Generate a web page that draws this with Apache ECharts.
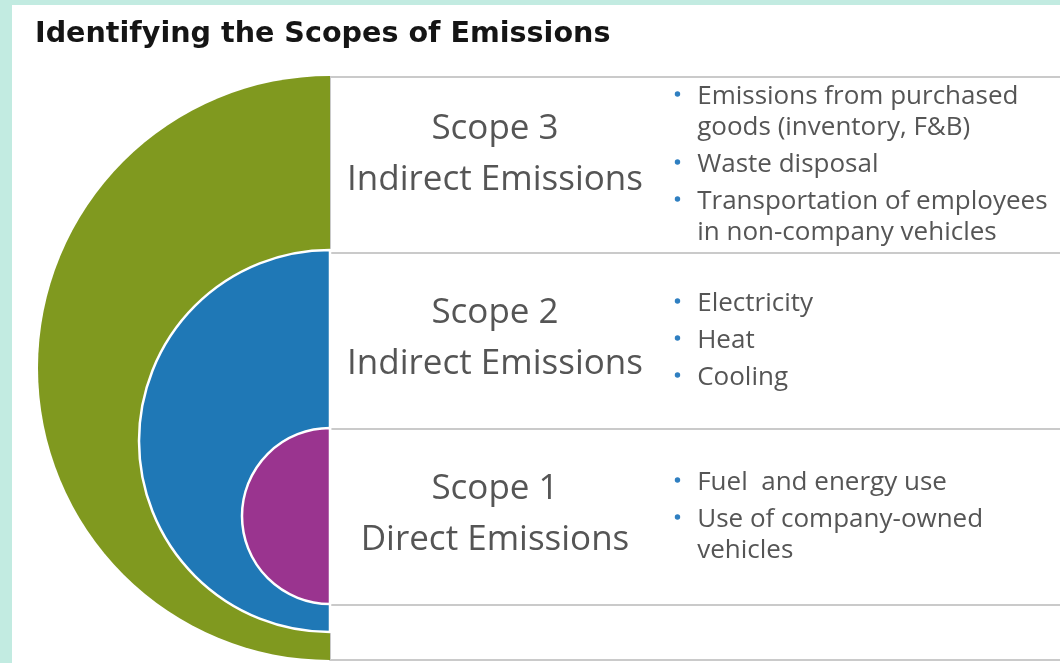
<!DOCTYPE html>
<html><head><meta charset="utf-8">
<script src="https://cdn.jsdelivr.net/npm/echarts@6/dist/echarts.min.js"></script>
<style>
html,body{margin:0;padding:0;background:#c2ebe1;width:1060px;height:663px;overflow:hidden;}
#bg{position:absolute;left:12px;top:5px;width:1048px;height:658px;background:#fff;}
#c{position:absolute;left:0;top:0;width:1060px;height:663px;}
</style></head>
<body>
<div id="bg"></div>
<div id="c"></div>
<script>
// ---- data ----
const chartTitle = 'Identifying the Scopes of Emissions';
const scopeTitles = ['Scope 3', 'Scope 2', 'Scope 1'];
const scopeSubtitles = ['Indirect Emissions', 'Indirect Emissions', 'Direct Emissions'];
const scope3Items = [['Emissions from purchased', 'goods (inventory, F&B)'], ['Waste disposal'], ['Transportation of employees', 'in non-company vehicles']];
const scope2Items = [['Electricity'], ['Heat'], ['Cooling']];
const scope1Items = [['Fuel  and energy use'], ['Use of company-owned', 'vehicles']];
const rowItems = [scope3Items, scope2Items, scope1Items];
const rowIndex = [0, 1, 2];

const FONT = '"Open Sans", "Noto Sans", sans-serif';

function halfDisc(name, color, center, radius, z, border) {
  return {
    type: 'pie', name: name, silent: true, z: z, animation: false,
    center: center, radius: [0, radius],
    startAngle: 90, endAngle: 270, clockwise: false,
    label: { show: false }, labelLine: { show: false },
    emphasis: { disabled: true },
    itemStyle: { color: color, borderColor: '#ffffff', borderWidth: border },
    data: [{ name: name, value: 1 }]
  };
}

const chart = echarts.init(document.getElementById('c'), null, { renderer: 'canvas' });
chart.setOption({
  backgroundColor: 'transparent',
  animation: false,
  title: {
    text: chartTitle, left: 30, top: 15,
    textStyle: { fontFamily: '"DejaVu Sans", sans-serif', fontSize: 28.6, fontWeight: 'bold', color: '#151515' }
  },
  grid: { left: 330, right: 0, top: 77, bottom: 3 },
  xAxis: { type: 'value', min: 0, max: 1, show: false },
  yAxis: {
    type: 'value', inverse: true, min: 0, max: 3.3125, interval: 1,
    axisLine: { show: true, lineStyle: { color: '#cacaca', width: 2 } },
    axisTick: { show: false }, axisLabel: { show: false },
    splitLine: { show: true, lineStyle: { color: '#cacaca', width: 2 } }
  },
  series: [
    halfDisc(scopeTitles[0], '#80991f', [330, 368], 292, 3, 0),
    halfDisc(scopeTitles[1], '#1f78b6', [330, 441], 191, 4, 2.5),
    halfDisc(scopeTitles[2], '#9a348f', [330, 516], 88, 5, 2.5),
    {
      type: 'custom', z: 6, silent: true, animation: false,
      data: rowIndex,
      encode: { y: 0 },
      renderItem: function (params, api) {
        const i = api.value(0);
        const cy = api.coord([0, i + 0.5])[1];
        const cx = api.coord([0.226, 0])[0];
        const dotX = api.coord([0.476, 0])[0];
        const textX = api.coord([0.503, 0])[0];
        const children = [{
          type: 'text',
          style: {
            text: scopeTitles[i] + '\n' + scopeSubtitles[i],
            x: cx, y: cy + (i === 0 ? -10 : -2), align: 'center', verticalAlign: 'middle',
            fontFamily: FONT, fontSize: 35, lineHeight: 51, fill: '#555555'
          }
        }];
        const items = rowItems[i];
        const lines = [];
        let pos = 0;
        items.forEach(function (it, j) {
          it.forEach(function (ln, k) {
            if (j > 0 || k > 0) pos += (k === 0 ? 37 : 31);
            lines.push({ text: ln, first: k === 0, pos: pos });
          });
        });
        const span = pos;
        lines.forEach(function (ln) {
          const y = cy - span / 2 + ln.pos;
          if (ln.first) {
            children.push({ type: 'circle', shape: { cx: dotX, cy: y - 3, r: 2.7 }, style: { fill: '#2f7fc1' } });
          }
          children.push({
            type: 'text',
            style: {
              text: ln.text, x: textX, y: y, align: 'left', verticalAlign: 'middle',
              fontFamily: FONT, fontSize: 26, fill: '#555555'
            }
          });
        });
        return { type: 'group', children: children };
      }
    }
  ]
});
</script>
</body></html>
